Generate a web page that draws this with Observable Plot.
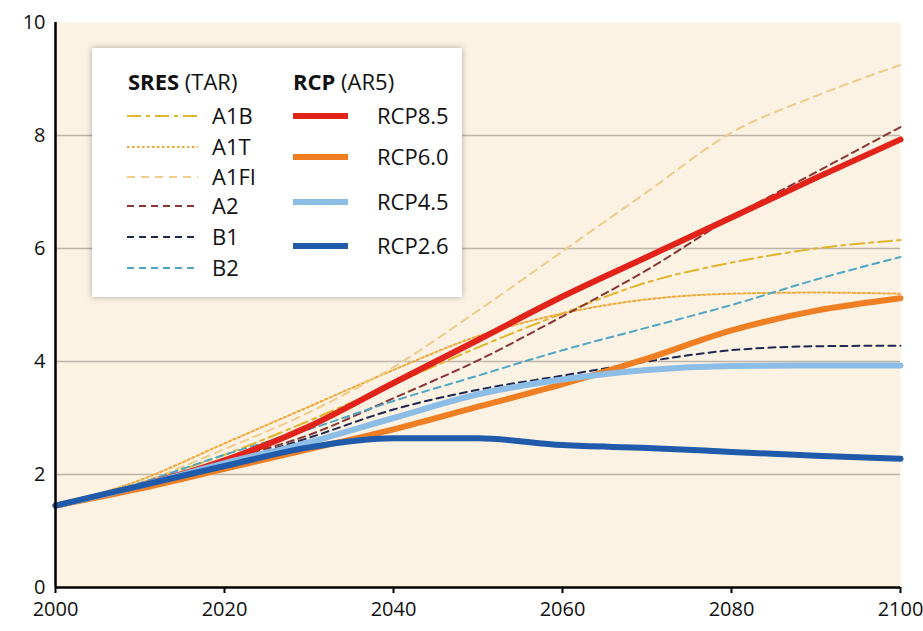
<!DOCTYPE html>
<html>
<head>
<meta charset="utf-8">
<script src="https://cdn.jsdelivr.net/npm/d3@7"></script>
<script src="https://cdn.jsdelivr.net/npm/@observablehq/plot@0.6"></script>
<style>
  body { margin: 0; background: #ffffff; }
  #chart { width: 923px; height: 631px; }
</style>
</head>
<body>
<div id="chart"></div>
<script>
// Years at which each scenario is sampled
const years = [2000, 2010, 2020, 2030, 2040, 2050, 2060, 2070, 2080, 2090, 2100];

// SRES scenarios (TAR)
const a1b  = [1.45, 1.85, 2.35, 2.95, 3.60, 4.25, 4.85, 5.40, 5.75, 6.00, 6.15];
const a1t  = [1.45, 1.90, 2.55, 3.20, 3.85, 4.45, 4.85, 5.10, 5.20, 5.22, 5.20];
const a1fi = [1.45, 1.85, 2.45, 3.10, 3.90, 4.90, 5.95, 7.00, 8.05, 8.70, 9.25];
const a2   = [1.45, 1.80, 2.25, 2.70, 3.35, 4.02, 4.80, 5.62, 6.55, 7.35, 8.15];
const b1   = [1.45, 1.80, 2.20, 2.65, 3.15, 3.50, 3.75, 4.00, 4.20, 4.27, 4.28];
const b2   = [1.45, 1.85, 2.35, 2.80, 3.30, 3.75, 4.20, 4.60, 5.00, 5.45, 5.85];

// RCP scenarios (AR5)
const rcp85 = [1.45, 1.80, 2.25, 2.85, 3.62, 4.38, 5.15, 5.85, 6.55, 7.25, 7.93];
const rcp60 = [1.45, 1.75, 2.10, 2.45, 2.80, 3.20, 3.60, 4.05, 4.55, 4.90, 5.12];
const rcp45 = [1.45, 1.80, 2.20, 2.57, 3.00, 3.42, 3.68, 3.85, 3.92, 3.93, 3.93];
const rcp26 = [1.45, 1.80, 2.15, 2.48, 2.64, 2.64, 2.52, 2.47, 2.40, 2.33, 2.28];

const sresNames  = ["A1B", "A1T", "A1FI", "A2", "B1", "B2"];
const sresValues = [a1b, a1t, a1fi, a2, b1, b2];
const sresColors = ["#e2b52c", "#efa93a", "#efcb8c", "#8a3434", "#1f2850", "#4ea6c6"];
const sresDashes = ["14,5,4,5", "2.5,2.5", "8,6", "7,5", "7,5", "7,5"];

const rcpNames  = ["RCP8.5", "RCP6.0", "RCP4.5", "RCP2.6"];
const rcpValues = [rcp85, rcp60, rcp45, rcp26];
const rcpColors = ["#e2231a", "#ef7f22", "#8cbde6", "#1f5aab"];

const yTicks = [0, 2, 4, 6, 8, 10];
const xTicks = [2000, 2020, 2040, 2060, 2080, 2100];

const seriesRows = (name, values) =>
  years.map((year, i) => ({ scenario: name, year, value: values[i] }));

const sresMarks = sresNames.map((name, i) =>
  Plot.line(seriesRows(name, sresValues[i]), {
    x: "year", y: "value",
    stroke: sresColors[i], strokeWidth: 2,
    strokeDasharray: sresDashes[i], curve: "monotone-x"
  })
);

const rcpMarks = rcpNames.map((name, i) =>
  Plot.line(seriesRows(name, rcpValues[i]), {
    x: "year", y: "value",
    stroke: rcpColors[i], strokeWidth: 6, curve: "monotone-x"
  })
);

const width = 923, height = 631;

const plot = Plot.plot({
  width, height,
  marginLeft: 55, marginRight: 23, marginTop: 22, marginBottom: 44,
  style: { fontFamily: "'Open Sans', sans-serif", fontSize: "21px", color: "#111", background: "#ffffff" },
  x: { domain: [2000, 2100] },
  y: { domain: [0, 10] },
  marks: [
    Plot.frame({ fill: "#fbf2e3", stroke: null }),
    Plot.gridY(yTicks.filter(d => d > 0 && d < 10), { stroke: "#bdb4aa", strokeOpacity: 1, strokeWidth: 1.5 }),
    ...sresMarks,
    ...rcpMarks,
    Plot.ruleY([0], { stroke: "#000", strokeWidth: 2.5 }),
    Plot.ruleX([2000], { stroke: "#000", strokeWidth: 2.5 }),
    Plot.axisY(yTicks, { tickSize: 0, tickPadding: 10, fontSize: 20, label: null,
                         tickFormat: d => String(d) }),
    Plot.axisX(xTicks, { tickSize: 6, tickPadding: 8, stroke: "#000", strokeWidth: 2, fontSize: 20,
                         tickFormat: d => String(d), label: null })
  ]
});

document.getElementById("chart").appendChild(plot);

// Legend box drawn inside the plot area
const svg = d3.select(plot);
svg.append("defs").append("filter")
  .attr("id", "legend-shadow").attr("x", "-10%").attr("y", "-10%").attr("width", "120%").attr("height", "120%")
  .append("feDropShadow")
  .attr("dx", 0).attr("dy", 0).attr("stdDeviation", 3)
  .attr("flood-color", "#000").attr("flood-opacity", 0.3);

const legend = svg.append("g")
  .attr("font-family", "'Open Sans', sans-serif")
  .style("font-size", "22px")
  .attr("text-anchor", "start")
  .attr("fill", "#111");

legend.append("rect")
  .attr("x", 92).attr("y", 48).attr("width", 370).attr("height", 249)
  .attr("fill", "#ffffff").attr("filter", "url(#legend-shadow)");

const sresTitle = legend.append("text").attr("x", 128).attr("y", 82).attr("dy", "0.35em");
sresTitle.append("tspan").attr("font-weight", "bold").text("SRES");
sresTitle.append("tspan").text(" (TAR)");

const rcpTitle = legend.append("text").attr("x", 293).attr("y", 82).attr("dy", "0.35em");
rcpTitle.append("tspan").attr("font-weight", "bold").text("RCP");
rcpTitle.append("tspan").text(" (AR5)");

const sresRowY = [116, 147, 177, 206, 237, 268];
sresNames.forEach((name, i) => {
  legend.append("line")
    .attr("x1", 127).attr("x2", 198).attr("y1", sresRowY[i]).attr("y2", sresRowY[i])
    .attr("stroke", sresColors[i]).attr("stroke-width", 2)
    .attr("stroke-dasharray", sresDashes[i]);
  legend.append("text").attr("x", 212).attr("y", sresRowY[i]).attr("dy", "0.35em").text(name);
});

const rcpRowY = [116, 157, 202, 246];
rcpNames.forEach((name, i) => {
  legend.append("line")
    .attr("x1", 293).attr("x2", 348).attr("y1", rcpRowY[i]).attr("y2", rcpRowY[i])
    .attr("stroke", rcpColors[i]).attr("stroke-width", 6);
  legend.append("text").attr("x", 377).attr("y", rcpRowY[i]).attr("dy", "0.35em").text(name);
});
</script>
</body>
</html>
